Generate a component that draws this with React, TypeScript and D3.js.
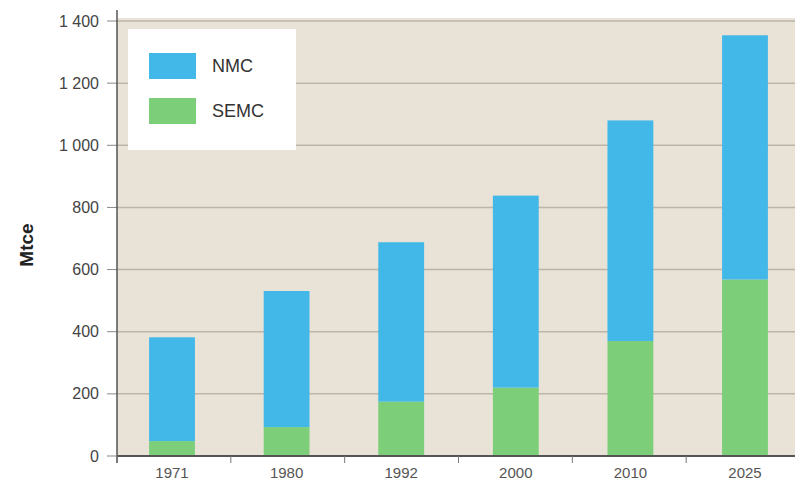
import React from "react";
import * as d3 from "d3";

const categories = ["1971", "1980", "1992", "2000", "2010", "2025"];
const semc = [48, 93, 175, 220, 370, 568];
const nmc = [334, 438, 513, 618, 710, 786];
const yTicks = [0, 200, 400, 600, 800, 1000, 1200, 1400];
const seriesNames = ["NMC", "SEMC"];

const W = 795, H = 484;
const left = 117, right = 800, top = 21, bottom = 456;
const colors: Record<string, string> = { NMC: "#42B8E8", SEMC: "#7CCF78" };

export default function App() {
  const x = d3.scaleBand<string>().domain(categories).range([left, right]).paddingInner(0.6).paddingOuter(0.28);
  const xb = d3.scaleBand<string>().domain(categories).range([left, right]);
  const y = d3.scaleLinear().domain([0, 1400]).range([bottom, top]);
  const data = categories.map((c, i) => ({ cat: c, SEMC: semc[i], NMC: nmc[i] }));
  const stacked = d3.stack<any>().keys(["SEMC", "NMC"])(data);
  const fmt = (v: number) => d3.format(",")(v).replace(",", " ");

  return (
    <svg width={W} height={H} style={{ position: "absolute", left: 0, top: 0, background: "#fff" }}>
      <rect x={left} y={top - 3} width={W - left} height={bottom - top + 3} fill="#E9E3D7" />
      {yTicks.map((t) => (
        <g key={t}>
          {t > 0 && <line x1={left} x2={W} y1={y(t)} y2={y(t)} stroke="#BDB5A8" strokeWidth={1.5} />}
          <line x1={left - 10} x2={left} y1={y(t)} y2={y(t)} stroke="#888" strokeWidth={1} />
          <text x={99} y={y(t)} dy="0.35em" textAnchor="end" fontFamily="Liberation Sans, Arial, sans-serif" fontSize={16} fill="#444">
            {fmt(t)}
          </text>
        </g>
      ))}
      {stacked.map((s) => (
        <g key={s.key} fill={colors[s.key]}>
          {s.map((d, i) => (
            <rect key={i} x={x(categories[i])} width={x.bandwidth()} y={y(d[1])} height={y(d[0]) - y(d[1])} />
          ))}
        </g>
      ))}
      <line x1={left} x2={left} y1={10} y2={bottom + 7} stroke="#555" strokeWidth={1.5} />
      <line x1={left} x2={W} y1={bottom} y2={bottom} stroke="#555" strokeWidth={2} />
      {categories.map((c) => (
        <g key={c}>
          <line x1={xb(c)} x2={xb(c)} y1={bottom} y2={bottom + 7} stroke="#777" strokeWidth={1} />
          <text x={(x(c) as number) + x.bandwidth() / 2} y={478} textAnchor="middle" fontFamily="Liberation Sans, Arial, sans-serif" fontSize={15} fill="#555">
            {c}
          </text>
        </g>
      ))}
      <text transform={`translate(33,${245}) rotate(-90)`} textAnchor="middle" fontFamily="Liberation Sans, Arial, sans-serif" fontSize={19} fontWeight="bold" fill="#222">
        Mtce
      </text>
      <rect x={128} y={29} width={168} height={121} fill="#fff" />
      {seriesNames.map((n, i) => (
        <g key={n}>
          <rect x={149} y={53 + i * 45} width={47} height={26} fill={colors[n]} />
          <text x={212} y={66 + i * 45} dy="0.35em" fontFamily="Liberation Sans, Arial, sans-serif" fontSize={18} fill="#333">
            {n}
          </text>
        </g>
      ))}
    </svg>
  );
}
